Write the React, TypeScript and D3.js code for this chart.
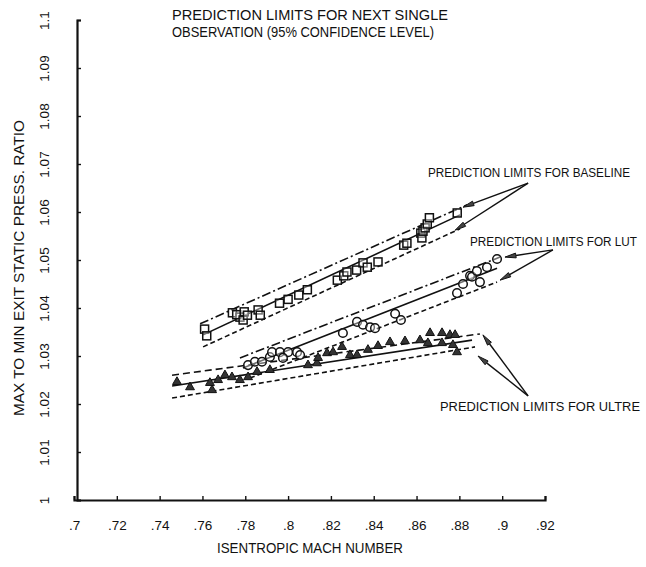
import React, { useEffect, useRef } from 'react';
import * as d3 from 'd3';

// tick values
const xTicks = [0.7, 0.72, 0.74, 0.76, 0.78, 0.8, 0.82, 0.84, 0.86, 0.88, 0.9, 0.92];
const yTicks = [1, 1.01, 1.02, 1.03, 1.04, 1.05, 1.06, 1.07, 1.08, 1.09, 1.1];

// observed points [mach, ratio]
const baselinePoints = [
  [0.761, 1.0356], [0.762, 1.0342], [0.774, 1.039], [0.7775, 1.0381], [0.776, 1.0386],
  [0.779, 1.0375], [0.7795, 1.0392], [0.781, 1.0385], [0.786, 1.0396], [0.787, 1.0385],
  [0.796, 1.041], [0.8, 1.0418], [0.805, 1.0427], [0.809, 1.0438], [0.823, 1.0458],
  [0.826, 1.0467], [0.8275, 1.0475], [0.832, 1.0479], [0.835, 1.0494], [0.837, 1.0485],
  [0.842, 1.0496], [0.854, 1.0531], [0.8555, 1.0535], [0.862, 1.0556], [0.8625, 1.0546],
  [0.863, 1.056], [0.864, 1.0567], [0.865, 1.0575], [0.866, 1.0588], [0.879, 1.0598],
];

const lutPoints = [
  [0.7813, 1.0281], [0.7845, 1.0288], [0.7878, 1.0288], [0.7915, 1.0298], [0.7925, 1.0308],
  [0.7962, 1.0308], [0.8, 1.0308], [0.8042, 1.0308], [0.7976, 1.0296], [0.8056, 1.0302],
  [0.8256, 1.0348], [0.8322, 1.0371], [0.835, 1.0365], [0.8383, 1.036], [0.8406, 1.0358],
  [0.85, 1.0388], [0.8527, 1.0375], [0.8789, 1.0431], [0.8817, 1.045], [0.885, 1.0467],
  [0.8859, 1.0465], [0.8882, 1.0477], [0.8896, 1.0454], [0.8929, 1.0485], [0.8976, 1.0502],
];

const ultrePoints = [
  [0.7481, 1.0246], [0.7542, 1.0235], [0.7635, 1.0244], [0.7645, 1.0229], [0.7673, 1.025],
  [0.7705, 1.026], [0.7738, 1.0256], [0.7775, 1.025], [0.7813, 1.0256], [0.7855, 1.0267],
  [0.7915, 1.0271], [0.8093, 1.0281], [0.8135, 1.0285], [0.814, 1.0296], [0.8182, 1.0306],
  [0.821, 1.0308], [0.8252, 1.0319], [0.8289, 1.0302], [0.8322, 1.0302], [0.8373, 1.0313],
  [0.842, 1.0321], [0.8476, 1.0329], [0.8546, 1.0331], [0.8616, 1.0333], [0.8653, 1.0327],
  [0.8663, 1.0348], [0.8719, 1.0348], [0.8719, 1.0327], [0.8756, 1.0344], [0.877, 1.0323],
  [0.878, 1.0344], [0.8789, 1.0308],
];

// fit and prediction limit lines
const baselineUpper = [[0.7589, 1.0367], [0.8836, 1.0615]];
const baselineFit = [[0.7603, 1.0344], [0.8803, 1.0594]];
const baselineLower = [[0.7603, 1.0319], [0.8803, 1.0565]];
const lutUpper = [[0.7775, 1.0296], [0.899, 1.0506]];
const lutFit = [[0.7789, 1.0275], [0.8976, 1.0483]];
const lutLower = [[0.7822, 1.0254], [0.8976, 1.0454]];
const ultreUpper = [[0.7458, 1.026], [0.8896, 1.0346]];
const ultreFit = [[0.7458, 1.02375], [0.8859, 1.0333]];
const ultreLower = [[0.7458, 1.02125], [0.8873, 1.0319]];

// annotation arrows: from label to the ends of the limit lines
const arrows = [
  { from: [0.9121, 1.066], to: [0.8817, 1.061] },
  { from: [0.9121, 1.066], to: [0.878, 1.0562] },
  { from: [0.9237, 1.0521], to: [0.9013, 1.0506] },
  { from: [0.9237, 1.0521], to: [0.899, 1.0458] },
  { from: [0.9121, 1.0217], to: [0.891, 1.0344] },
  { from: [0.9121, 1.0217], to: [0.8887, 1.03] },
];

const FONT = "'Liberation Sans', Arial, sans-serif";

const App = () => {
  const ref = useRef(null);

  useEffect(() => {
    const svg = d3.select(ref.current);
    svg.selectAll('*').remove();

    const x = d3.scaleLinear().domain([0.7, 0.92]).range([74, 545]);
    const y = d3.scaleLinear().domain([1.0, 1.1]).range([500, 20]);
    const ink = '#111';

    // axes, ticks point inward
    const xAxis = svg.append('g')
      .attr('transform', 'translate(0,500)')
      .call(d3.axisBottom(x).tickValues(xTicks).tickSize(-4).tickPadding(20)
        .tickFormat(d => d3.format('.2~f')(d).replace(/^0/, '')));
    const yAxis = svg.append('g')
      .attr('transform', 'translate(77,0)')
      .call(d3.axisLeft(y).tickValues(yTicks).tickSize(-4)
        .tickFormat(d => d3.format('.2~f')(d)));

    [xAxis, yAxis].forEach(g => {
      g.select('.domain').attr('stroke', ink).attr('stroke-width', 2.2);
      g.selectAll('.tick line').attr('stroke', ink).attr('stroke-width', 1.4);
      g.selectAll('text').attr('font-family', FONT).attr('font-size', 13.5).attr('fill', ink);
    });
    yAxis.selectAll('.tick text')
      .attr('x', 0).attr('y', 0).attr('dy', '0.35em')
      .attr('text-anchor', 'middle')
      .attr('transform', 'translate(-33,0) rotate(-90)');

    // axis titles
    svg.append('text')
      .attr('x', 310).attr('y', 553)
      .attr('text-anchor', 'middle')
      .attr('font-family', FONT).attr('font-size', 14).attr('fill', ink)
      .attr('textLength', 186).attr('lengthAdjust', 'spacingAndGlyphs')
      .text('ISENTROPIC MACH NUMBER');
    svg.append('text')
      .attr('transform', 'translate(24,268) rotate(-90)')
      .attr('text-anchor', 'middle')
      .attr('font-family', FONT).attr('font-size', 14).attr('fill', ink)
      .attr('textLength', 296).attr('lengthAdjust', 'spacingAndGlyphs')
      .text('MAX TO MIN EXIT STATIC PRESS. RATIO');

    // title
    svg.append('text')
      .attr('x', 172).attr('y', 20)
      .attr('font-family', FONT).attr('font-size', 14.5).attr('fill', ink)
      .attr('textLength', 276).attr('lengthAdjust', 'spacingAndGlyphs')
      .text('PREDICTION LIMITS FOR NEXT SINGLE');
    svg.append('text')
      .attr('x', 172).attr('y', 37)
      .attr('font-family', FONT).attr('font-size', 14.5).attr('fill', ink)
      .attr('textLength', 262).attr('lengthAdjust', 'spacingAndGlyphs')
      .text('OBSERVATION (95% CONFIDENCE LEVEL)');

    // fit and limit lines
    const line = d3.line().x(d => x(d[0])).y(d => y(d[1]));
    const dashDot = '9,3,2,3';
    const dashed = '5,3';
    const lines = [
      [baselineUpper, dashDot], [baselineFit, null], [baselineLower, dashed],
      [lutUpper, dashDot], [lutFit, null], [lutLower, dashed],
      [ultreUpper, '7,4'], [ultreFit, null], [ultreLower, dashed],
    ];
    lines.forEach(([data, dash]) => {
      svg.append('path')
        .datum(data)
        .attr('fill', 'none')
        .attr('stroke', ink)
        .attr('stroke-width', 1.6)
        .attr('stroke-dasharray', dash)
        .attr('d', line);
    });

    // markers
    svg.append('g').selectAll('rect')
      .data(baselinePoints)
      .join('rect')
      .attr('x', d => x(d[0]) - 4).attr('y', d => y(d[1]) - 4)
      .attr('width', 8).attr('height', 8)
      .attr('fill', 'white').attr('fill-opacity', 0.4)
      .attr('stroke', ink).attr('stroke-width', 1.5);

    svg.append('g').selectAll('circle')
      .data(lutPoints)
      .join('circle')
      .attr('cx', d => x(d[0])).attr('cy', d => y(d[1]))
      .attr('r', 4.3)
      .attr('fill', 'white').attr('fill-opacity', 0.4)
      .attr('stroke', ink).attr('stroke-width', 1.5);

    const tri = d3.symbol().type(d3.symbolTriangle).size(34);
    svg.append('g').selectAll('path')
      .data(ultrePoints)
      .join('path')
      .attr('transform', d => `translate(${x(d[0])},${y(d[1])})`)
      .attr('d', tri)
      .attr('fill', '#333')
      .attr('stroke', ink).attr('stroke-width', 1);

    // arrows
    arrows.forEach(a => {
      const x1 = x(a.from[0]), y1 = y(a.from[1]);
      const x2 = x(a.to[0]), y2 = y(a.to[1]);
      const ang = Math.atan2(y2 - y1, x2 - x1);
      const len = 11, half = 2.4;
      const bx = x2 - len * Math.cos(ang), by = y2 - len * Math.sin(ang);
      svg.append('line')
        .attr('x1', x1).attr('y1', y1).attr('x2', bx).attr('y2', by)
        .attr('stroke', ink).attr('stroke-width', 1.4);
      const px = -Math.sin(ang) * half, py = Math.cos(ang) * half;
      svg.append('path')
        .attr('d', `M${x2},${y2}L${bx + px},${by + py}L${bx - px},${by - py}Z`)
        .attr('fill', '#444').attr('stroke', ink).attr('stroke-width', 1);
    });

    // annotation labels
    const labels = [
      { t: 'PREDICTION LIMITS FOR BASELINE', x: 428, y: 177, w: 202 },
      { t: 'PREDICTION LIMITS FOR LUT', x: 470, y: 246, w: 167 },
      { t: 'PREDICTION LIMITS FOR ULTRE', x: 440, y: 411, w: 200 },
    ];
    labels.forEach(l => {
      svg.append('text')
        .attr('x', l.x).attr('y', l.y)
        .attr('font-family', FONT).attr('font-size', 12).attr('fill', ink)
        .attr('textLength', l.w).attr('lengthAdjust', 'spacingAndGlyphs')
        .text(l.t);
    });
  }, []);

  return (
    <svg ref={ref} width={646} height={567}
      style={{ position: 'absolute', left: 0, top: 0, background: 'white' }} />
  );
};

export default App;
